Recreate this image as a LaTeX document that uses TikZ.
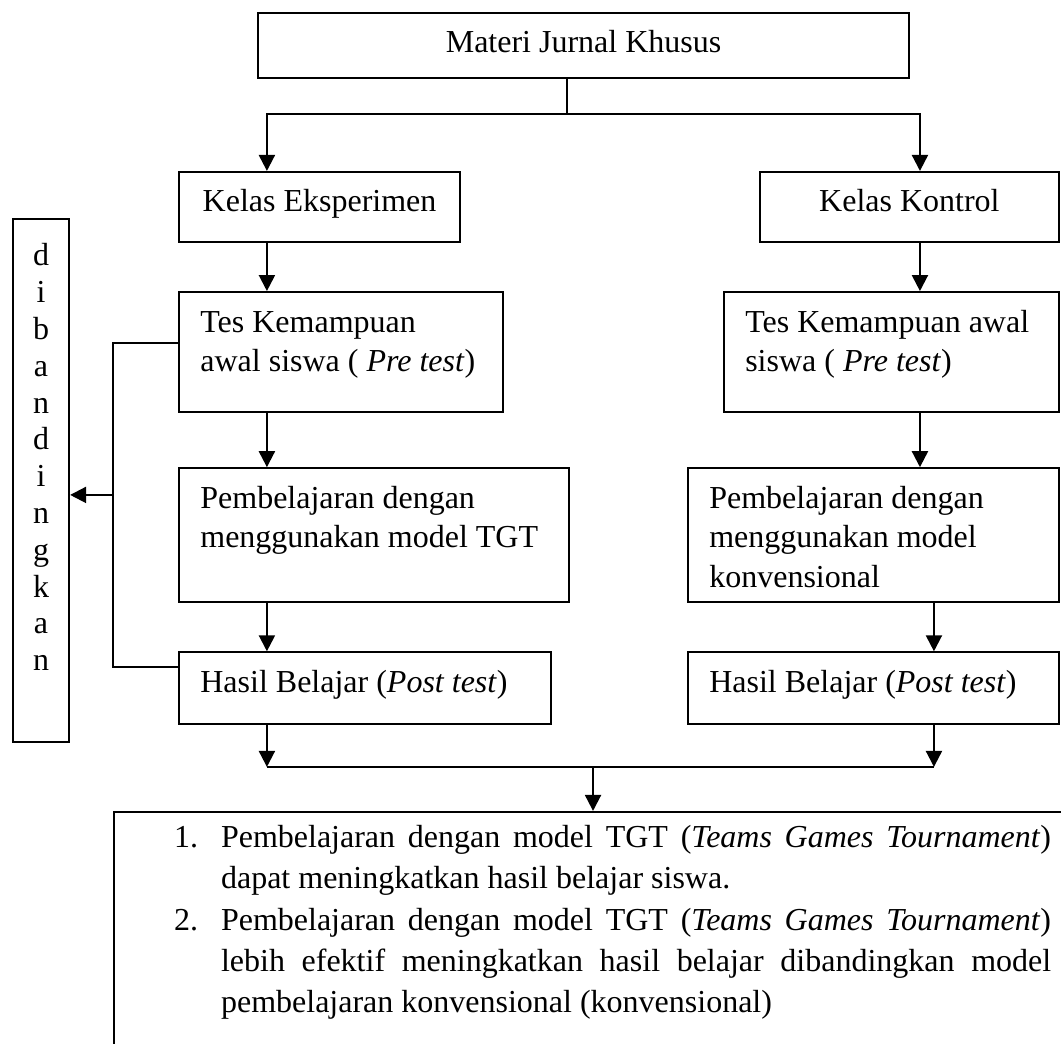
\documentclass[tikz,border=0pt]{standalone}
\usepackage{fontspec}
\setmainfont{Liberation Serif}
\usetikzlibrary{positioning, arrows.meta}

\begin{document}
\begin{tikzpicture}[
        x=1pt, y=1pt,
        >={Triangle[width=6pt, length=6pt]},
        line width=0.8pt,
        box/.style 2 args={draw, inner sep=0pt,
            execute at begin node={\begin{minipage}[c][#2][t]{#1}\fontsize{12}{14.8}\selectfont\parindent=0pt\leftskip=8pt\rightskip=0pt plus 1fil\vspace{4.6pt}\strut},
            execute at end node={\end{minipage}}}
    ]
        \useasboundingbox (0,0) rectangle (397.9,-391.5);

        \node[box={244.1pt}{24.4pt}, anchor=north west] (mat) at (96.4,-4.5) {\centering Materi Jurnal Khusus\par};

        % kelas eksperimen
        \node[box={105.4pt}{26.25pt}, anchor=north west] (eks) at (66.75,-64.1) {\centering Kelas Eksperimen\par};
        \node[box={121.5pt}{45pt}, below=18pt of eks.south west, anchor=north west] (tesE) {Tes Kemampuan\\awal siswa ( \textit{Pre test})};
        \node[box={146.25pt}{50.25pt}, below=20.25pt of tesE.south west, anchor=north west] (pemE) {Pembelajaran dengan\\menggunakan model TGT};
        \node[box={139.5pt}{27pt}, below=18pt of pemE.south west, anchor=north west] (hasE) {Hasil Belajar (\textit{Post test})};

        % kelas kontrol
        \node[box={112.1pt}{26.25pt}, anchor=north east] (kon) at (397.5,-64.1) {\centering Kelas Kontrol\par};
        \node[box={125.6pt}{45pt}, below=18pt of kon.south east, anchor=north east] (tesK) {Tes Kemampuan awal\\siswa ( \textit{Pre test})};
        \node[box={139.1pt}{50.25pt}, below=20.25pt of tesK.south east, anchor=north east] (pemK) {Pembelajaran dengan\\menggunakan model\\konvensional};
        \node[box={139.1pt}{27pt}, below=18pt of pemK.south east, anchor=north east] (hasK) {Hasil Belajar (\textit{Post test})};

        \node[draw, inner sep=0pt, anchor=north west] (dib) at (4.5,-81.75) {\begin{minipage}[c][196.1pt][t]{21pt}\centering\fontsize{12}{13.8}\selectfont\vspace{7.9pt}\strut d\\i\\b\\a\\n\\d\\i\\n\\g\\k\\a\\n\end{minipage}};

        \node[draw, inner sep=0pt, anchor=north west] (res) at (42.4,-304.1) {\begin{minipage}[c][120pt][t]{380pt}\fontsize{12}{15.4}\selectfont\parindent=0pt\leftskip=40.1pt\rightskip=28.6pt\vspace{2.7pt}
            \strut\llap{\makebox[17.6pt][l]{1.}}Pembelajaran dengan model TGT (\textit{Teams Games Tournament})\linebreak dapat meningkatkan hasil belajar siswa.\par
            \noindent\llap{\makebox[17.6pt][l]{2.}}Pembelajaran dengan model TGT (\textit{Teams Games Tournament})\linebreak lebih efektif meningkatkan hasil belajar dibandingkan model\linebreak pembelajaran konvensional (konvensional)\par
        \end{minipage}};

        \coordinate (lx) at (100.1,0);
        \coordinate (rx) at (345,0);
        \coordinate (rx2) at (350.25,0);
        \coordinate (split) at (212.6,-42.75);
        \coordinate (joinL) at (100.1,-287.6);
        \coordinate (joinM) at (222.4,-287.6);
        \coordinate (joinR) at (350.25,-287.6);
        \coordinate (fbtop) at (42.4,-128.6);
        \coordinate (fbmid) at (42.4,-185.6);
        \coordinate (fbbot) at (42.4,-250.1);

        \draw[->] (mat.south -| split) -- (split) -| (eks.north -| lx);
        \draw[->] (split) -| (kon.north -| rx);
        \draw[->] (eks.south -| lx) -- (tesE.north -| lx);
        \draw[->] (tesE.south -| lx) -- (pemE.north -| lx);
        \draw[->] (pemE.south -| lx) -- (hasE.north -| lx);
        \draw[->] (kon.south -| rx) -- (tesK.north -| rx);
        \draw[->] (tesK.south -| rx) -- (pemK.north -| rx);
        \draw[->] (pemK.south -| rx2) -- (hasK.north -| rx2);
        \draw[->] (hasE.south -| lx) -- (joinL);
        \draw[->] (hasK.south -| rx2) -- (joinR);
        \draw (joinL) -- (joinR);
        \draw[->] (joinM) -- (res.north -| joinM);
        % dibandingkan
        \draw[line width=0.6pt] (tesE.west |- fbtop) -- (fbtop) -- (fbbot) -- (hasE.west |- fbbot);
        \draw[->] (fbmid) -- (dib.east |- fbmid);
    \end{tikzpicture}
\end{document}
